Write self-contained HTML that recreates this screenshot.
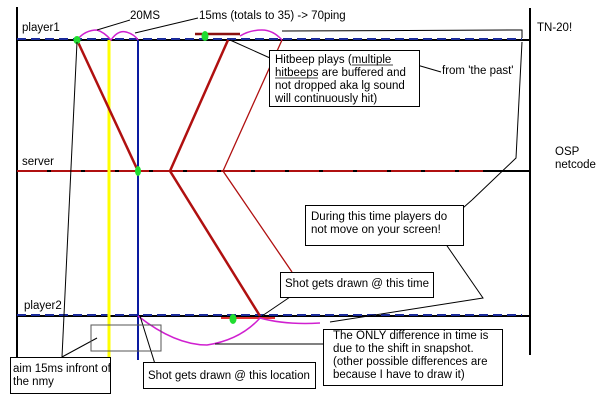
<!DOCTYPE html>
<html><head><style>
html,body{margin:0;padding:0;background:#fff;}
svg{display:block}
text{font-family:"Liberation Sans",Arial,sans-serif;font-size:11.5px;fill:#000}
</style></head><body>
<svg width="600" height="405" viewBox="0 0 600 405" xmlns="http://www.w3.org/2000/svg">
<rect width="600" height="405" fill="#fff"/>
<line x1="17" y1="7" x2="17" y2="357" stroke="#000" stroke-width="2"/>
<line x1="530" y1="8" x2="530" y2="355" stroke="#000" stroke-width="2"/>
<line x1="17" y1="40" x2="530" y2="40" stroke="#000" stroke-width="2"/>
<line x1="17" y1="39" x2="522" y2="39" stroke="#1a2a9a" stroke-width="2" stroke-dasharray="9,5"/>
<line x1="17" y1="171" x2="530" y2="171" stroke="#000" stroke-width="2"/>
<line x1="17" y1="171" x2="483" y2="171" stroke="#b01010" stroke-width="2" stroke-dasharray="30,4"/>
<line x1="17" y1="316" x2="530" y2="316" stroke="#000" stroke-width="2"/>
<line x1="17" y1="315" x2="522" y2="315" stroke="#1a2a9a" stroke-width="2" stroke-dasharray="9,5"/>
<line x1="109" y1="40" x2="109" y2="357" stroke="#ffff00" stroke-width="3"/>
<line x1="138" y1="40" x2="138" y2="360" stroke="#0a1aa0" stroke-width="2"/>
<g stroke="#b01010" fill="none">
<polyline points="77,40 138,171" stroke-width="2.5"/>
<polyline points="228,40 170,171 260,316" stroke-width="2.5"/>
<polyline points="282,40 223,171 292,272" stroke-width="1.3"/>
<line x1="195" y1="34" x2="240" y2="34" stroke-width="2.5" stroke="#8b1010"/>
<line x1="221" y1="318" x2="275" y2="318" stroke-width="2" stroke="#e03030"/>
</g>
<g stroke="#d020d0" stroke-width="1.5" fill="none">
<path d="M77,40 Q85,30 97,30 Q104,32 111,40 Q118,30 126,32 Q134,34 138,40"/>
<path d="M240,36 Q250,30 262,30 Q273,30 282,40"/>
<path d="M138,316 Q175,345 207,345 Q240,340 260,318 Q285,325 320,323"/>
</g>
<g fill="#20dd30">
<ellipse cx="77" cy="40" rx="3.5" ry="4"/>
<ellipse cx="138" cy="171" rx="3" ry="5"/>
<ellipse cx="205" cy="36" rx="3.5" ry="5"/>
<ellipse cx="233" cy="319" rx="3.5" ry="5"/>
</g>
<g stroke="#000" stroke-width="1" fill="none">
<line x1="97" y1="30" x2="130" y2="20"/>
<line x1="135" y1="33" x2="198" y2="18"/>
<polyline points="282,31 522,30 522,38"/>
<polyline points="522,42 516,158 472,200"/>
<line x1="230" y1="40" x2="270" y2="58"/>
<line x1="393" y1="58" x2="441" y2="72"/>
<line x1="447" y1="222" x2="472" y2="200"/>
<polyline points="443,240 483,298 330,322"/>
<line x1="262" y1="316" x2="290" y2="297"/>
<line x1="215" y1="344" x2="333" y2="344"/>
<line x1="140" y1="316" x2="155" y2="364"/>
<line x1="97" y1="338" x2="62" y2="357"/>
<line x1="62" y1="357" x2="77" y2="42"/>
</g>
<rect x="91" y="325" width="70" height="26" fill="none" stroke="#555" stroke-width="1"/>
<g fill="#fff" stroke="#000" stroke-width="1">
<rect x="269.5" y="50.5" width="150" height="56"/>
<rect x="305.5" y="205.5" width="158" height="40"/>
<rect x="280.5" y="272.5" width="153" height="25"/>
<rect x="323.5" y="329.5" width="179" height="56"/>
<rect x="143.5" y="362.5" width="172" height="26"/>
<rect x="10.5" y="357.5" width="100" height="36"/>
</g>
<text x="22" y="31">player1</text>
<text x="22" y="165">server</text>
<text x="24" y="309">player2</text>
<text x="130" y="19">20MS</text>
<text x="199" y="19">15ms (totals to 35) -&gt; 70ping</text>
<text x="537" y="31">TN-20!</text>
<text x="555" y="155">OSP</text>
<text x="555" y="168">netcode</text>
<text x="275" y="63">Hitbeep plays (multiple</text>
<text x="275" y="76">hitbeeps are buffered and</text>
<text x="275" y="89">not dropped aka lg sound</text>
<text x="275" y="102">will continuously hit)</text>
<line x1="352" y1="65" x2="393" y2="65" stroke="#000" stroke-width="0.8"/>
<line x1="275" y1="78" x2="318" y2="78" stroke="#000" stroke-width="0.8"/>
<text x="442" y="74">from 'the past'</text>
<text x="311" y="220">During this time players do</text>
<text x="311" y="233">not move on your screen!</text>
<text x="285" y="287">Shot gets drawn @ this time</text>
<text x="333" y="339">The ONLY difference in time is</text>
<text x="333" y="352">due to the shift in snapshot.</text>
<text x="333" y="365">(other possible differences are</text>
<text x="333" y="378">because I have to draw it)</text>
<text x="148" y="379">Shot gets drawn @ this location</text>
<text x="13" y="372">aim 15ms infront of</text>
<text x="13" y="385">the nmy</text>
</svg>
</body></html>
